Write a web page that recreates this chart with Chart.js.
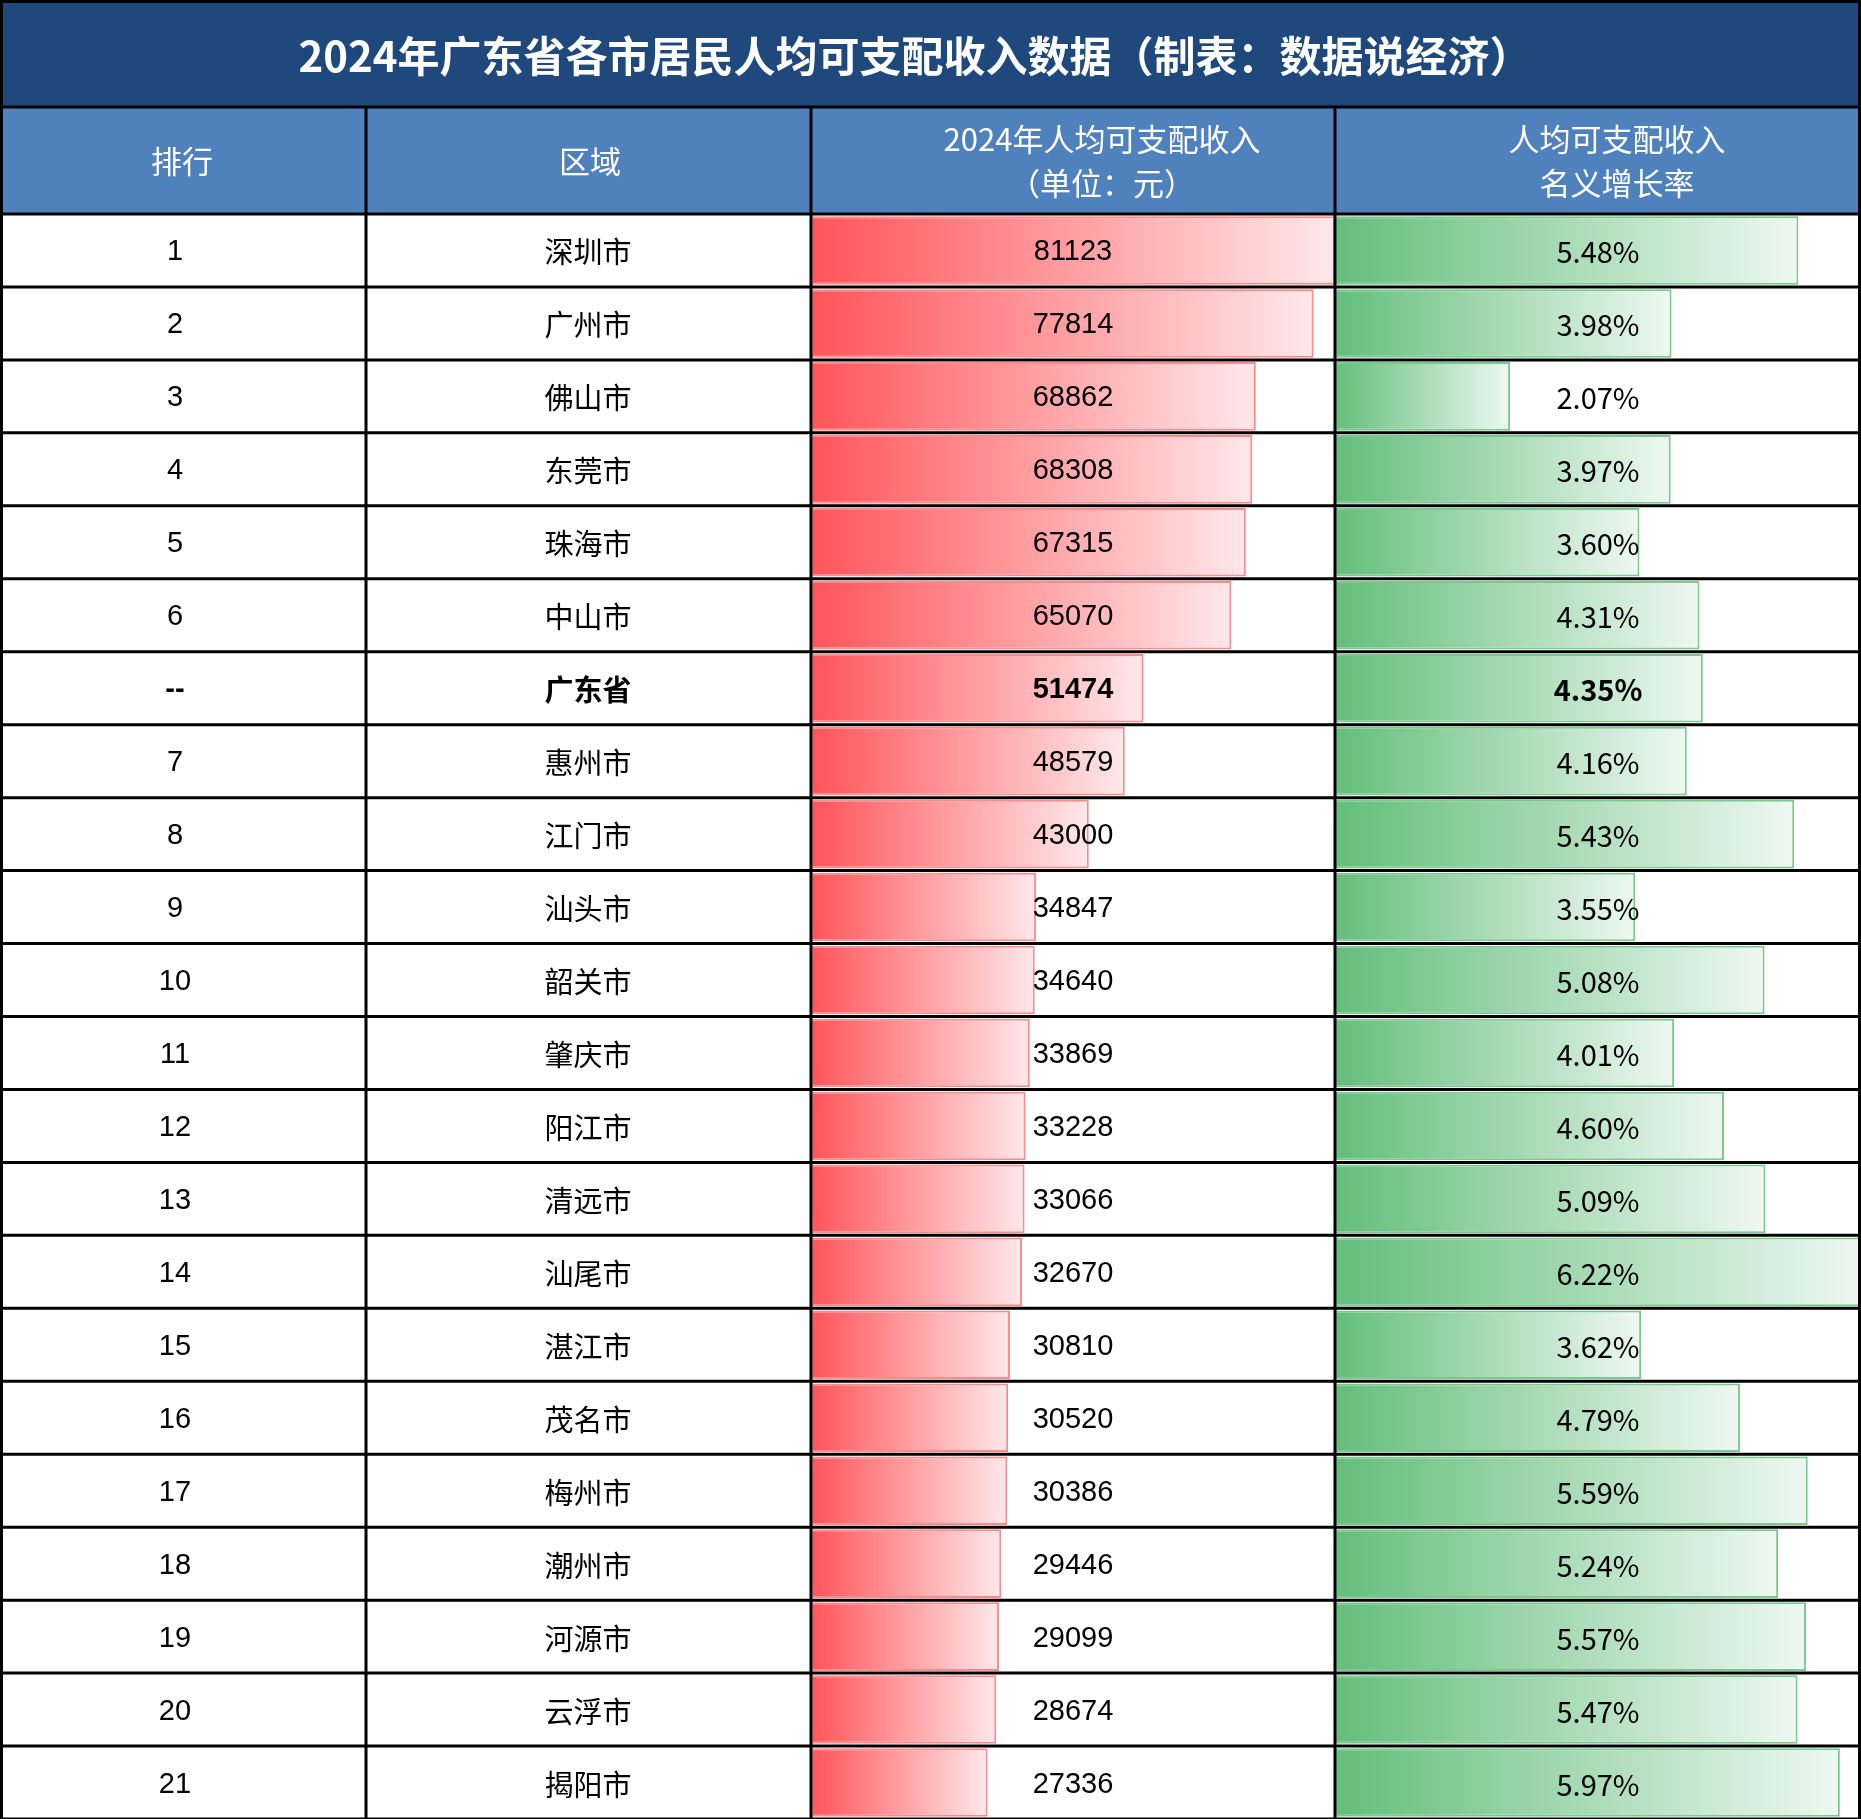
<!DOCTYPE html>
<html>
<head>
<meta charset="utf-8">
<script src="https://cdn.jsdelivr.net/npm/chart.js@4/dist/chart.umd.min.js"></script>
<style>
  html, body { margin: 0; padding: 0; background: #fff; }
  #wrap { width: 1861px; height: 1819px; }
</style>
</head>
<body>
<div id="wrap"><canvas id="c" width="1861" height="1819"></canvas></div>
<script>
const title = '2024年广东省各市居民人均可支配收入数据（制表：数据说经济）';
const headers = [['排行'], ['区域'], ['2024年人均可支配收入', '（单位：元）'], ['人均可支配收入', '名义增长率']];
const ranks = ['1','2','3','4','5','6','--','7','8','9','10','11','12','13','14','15','16','17','18','19','20','21'];
const regions = ['深圳市','广州市','佛山市','东莞市','珠海市','中山市','广东省','惠州市','江门市','汕头市','韶关市','肇庆市','阳江市','清远市','汕尾市','湛江市','茂名市','梅州市','潮州市','河源市','云浮市','揭阳市'];
const income = [81123,77814,68862,68308,67315,65070,51474,48579,43000,34847,34640,33869,33228,33066,32670,30810,30520,30386,29446,29099,28674,27336];
const growth = [5.48,3.98,2.07,3.97,3.60,4.31,4.35,4.16,5.43,3.55,5.08,4.01,4.60,5.09,6.22,3.62,4.79,5.59,5.24,5.57,5.47,5.97];
const boldRow = 6;

// layout (pixels)
const W = 1861, H = 1819;
const titleH = 107, headBottom = 214;
const colX = [0, 366, 811, 1335, 1861];
const rowH = (H - headBottom) / regions.length;

// map a column onto a full-width linear scale
function axisRange(left, right, maxVal) {
  const per = maxVal / (right - left);
  return { min: -left * per, max: (W - left) * per };
}
const incRange = axisRange(colX[2], colX[3], Math.max(...income));
const grRange = axisRange(colX[3], colX[4], Math.max(...growth));

function grad(ctx, axis, from, to) {
  const chart = ctx.chart;
  const sc = chart.scales[axis];
  if (!sc || !chart.chartArea) return from;
  const x0 = sc.getPixelForValue(0);
  const x1 = sc.getPixelForValue(ctx.raw ? ctx.raw[1] : 1);
  const g = chart.ctx.createLinearGradient(x0, 0, x1, 0);
  g.addColorStop(0, from);
  g.addColorStop(1, to);
  return g;
}

const tablePlugin = {
  id: 'table',
  beforeDatasetsDraw(chart) {
    const c = chart.ctx;
    c.save();
    c.fillStyle = '#fff';
    c.fillRect(0, 0, W, H);
    c.fillStyle = '#1F497D';
    c.fillRect(0, 0, W, titleH);
    c.fillStyle = '#4F81BD';
    c.fillRect(0, titleH, W, headBottom - titleH);
    c.restore();
  },
  afterDatasetsDraw(chart) {
    const c = chart.ctx;
    c.save();
    // grid
    c.strokeStyle = '#000';
    c.lineWidth = 3;
    c.beginPath();
    c.moveTo(0, titleH); c.lineTo(W, titleH);
    for (let i = 0; i <= regions.length; i++) {
      const y = headBottom + i * rowH;
      c.moveTo(0, y); c.lineTo(W, y);
    }
    colX.forEach(x => {
      const xx = Math.min(Math.max(x, 1.5), W - 1.5);
      c.moveTo(xx, titleH); c.lineTo(xx, H);
    });
    c.moveTo(1.5, 0); c.lineTo(1.5, titleH);
    c.moveTo(W - 1.5, 0); c.lineTo(W - 1.5, titleH);
    c.moveTo(0, 1.5); c.lineTo(W, 1.5);
    c.stroke();

    c.textAlign = 'center';
    c.textBaseline = 'middle';
    // title
    c.fillStyle = '#fff';
    c.font = 'bold 42px "Noto Sans CJK SC"';
    c.fillText(title, 915, 56);
    // headers
    c.font = '31px "Noto Sans CJK SC"';
    const hc = [182, 590, 1102, 1617];
    headers.forEach((lines, i) => {
      if (lines.length === 1) c.fillText(lines[0], hc[i], 161);
      else {
        c.fillText(lines[0], hc[i], 139);
        c.fillText(lines[1], hc[i], 183);
      }
    });
    // body
    c.fillStyle = '#000';
    regions.forEach((r, i) => {
      const y = headBottom + (i + 0.5) * rowH + 2;
      const b = i === boldRow ? 'bold ' : '';
      c.font = b + '29px "Liberation Sans Narrow", "Liberation Sans"';
      c.fillText(ranks[i], 175, y);
      c.fillText(String(income[i]), 1073, y);
      c.font = b + '29px "Noto Sans CJK SC"';
      c.fillText(r, 588, y);
      c.fillText(growth[i].toFixed(2) + '%', 1598, y);
    });
    c.restore();
  }
};

new Chart(document.getElementById('c'), {
  type: 'bar',
  data: {
    labels: regions,
    datasets: [
      {
        data: income.map(v => [0, v]),
        xAxisID: 'x1',
        backgroundColor: ctx => grad(ctx, 'x1', '#FF5459', '#FFE8EA'),
        borderColor: '#FF8A8D',
        borderWidth: 2,
        borderSkipped: false,
        categoryPercentage: 1,
        barPercentage: 0.94
      },
      {
        data: growth.map(v => [0, v]),
        xAxisID: 'x2',
        backgroundColor: ctx => grad(ctx, 'x2', '#63BE7B', '#EEF8F1'),
        borderColor: '#7CC990',
        borderWidth: 2,
        borderSkipped: false,
        categoryPercentage: 1,
        barPercentage: 0.94
      }
    ]
  },
  options: {
    responsive: false,
    animation: false,
    indexAxis: 'y',
    layout: { padding: { top: headBottom, left: 0, right: 0, bottom: 0 } },
    plugins: { legend: { display: false }, tooltip: { enabled: false } },
    scales: {
      y: { display: false, stacked: true, offset: true },
      x1: { type: 'linear', display: false, min: incRange.min, max: incRange.max },
      x2: { type: 'linear', display: false, min: grRange.min, max: grRange.max }
    }
  },
  plugins: [tablePlugin]
});
</script>
</body>
</html>
